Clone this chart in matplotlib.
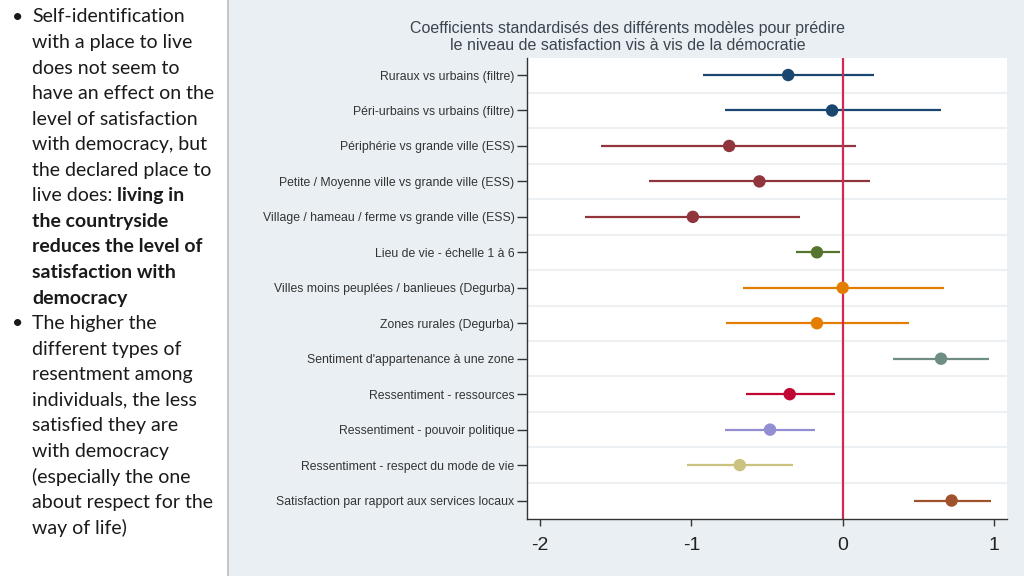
import numpy as np
import matplotlib
matplotlib.use('Agg')
import matplotlib.pyplot as plt
from matplotlib.patches import Rectangle

# --- data ---
labels = [
    "Ruraux vs urbains (filtre)",
    "Péri-urbains vs urbains (filtre)",
    "Périphérie vs grande ville (ESS)",
    "Petite / Moyenne ville vs grande ville (ESS)",
    "Village / hameau / ferme vs grande ville (ESS)",
    "Lieu de vie - échelle 1 à 6",
    "Villes moins peuplées / banlieues (Degurba)",
    "Zones rurales (Degurba)",
    "Sentiment d'appartenance à une zone",
    "Ressentiment - ressources",
    "Ressentiment - pouvoir politique",
    "Ressentiment - respect du mode de vie",
    "Satisfaction par rapport aux services locaux",
]
coef = [-0.36, -0.07, -0.75, -0.55, -0.99, -0.17, 0.00, -0.17, 0.65, -0.35, -0.48, -0.68, 0.72]
ci_low = [-0.92, -0.78, -1.60, -1.28, -1.70, -0.31, -0.66, -0.77, 0.33, -0.64, -0.78, -1.03, 0.47]
ci_high = [0.21, 0.65, 0.09, 0.18, -0.28, -0.02, 0.67, 0.44, 0.97, -0.05, -0.18, -0.33, 0.98]
colors = ["#1a476f", "#1a476f", "#90353b", "#90353b", "#90353b", "#55752f",
          "#e37e00", "#e37e00", "#6e8e84", "#c10534", "#938dd2", "#cac27e", "#a0522d"]

title = "Coefficients standardisés des différents modèles pour prédire\nle niveau de satisfaction vis à vis de la démocratie"

# left-hand notes, each line as (text, bold) pieces
notes = [
    [("Self-identification", False)],
    [("with a place to live", False)],
    [("does not seem to", False)],
    [("have an effect on the", False)],
    [("level of satisfaction", False)],
    [("with democracy, but", False)],
    [("the declared place to", False)],
    [("live does: ", False), ("living in", True)],
    [("the countryside", True)],
    [("reduces the level of", True)],
    [("satisfaction with", True)],
    [("democracy", True)],
    [("The higher the", False)],
    [("different types of", False)],
    [("resentment among", False)],
    [("individuals, the less", False)],
    [("satisfied they are", False)],
    [("with democracy", False)],
    [("(especially the one", False)],
    [("about respect for the", False)],
    [("way of life)", False)],
]
bullet_lines = [0, 12]

W, H = 1024, 576
fig = plt.figure(figsize=(W / 100, H / 100), dpi=100)
fig.patch.set_facecolor('white')

# grey-blue panel behind the chart
fig.patches.append(Rectangle((228 / W, -0.01), 1 - 228 / W + 0.01, 1.02, transform=fig.transFigure,
                             facecolor='#e9eff2', edgecolor='#b8bec2', linewidth=1.2, zorder=-5))

ax = fig.add_axes([527 / W, 1 - 519 / H, (1007 - 527) / W, (519 - 58) / H])
ax.set_facecolor('white')
y = np.arange(len(labels))

ax.hlines(y, ci_low, ci_high, colors=colors, linewidth=1.6, zorder=2)
ax.scatter(coef, y, s=80, c=colors, zorder=3, edgecolors='none')
ax.axvline(0, color='#d02a55', linewidth=1.6, zorder=2.5)

ax.set_xlim(-2.086, 1.086)
ax.set_ylim(len(labels) - 0.48, -0.48)
ax.set_xticks([-2, -1, 0, 1])
ax.set_xticklabels(['-2', '-1', '0', '1'], fontsize=14, family='Liberation Sans', color='#222222')
ax.set_yticks(y)
ax.set_yticklabels(labels, fontsize=8.8, family='Liberation Sans', color='#333333')
ax.set_yticks(y[:-1] + 0.5, minor=True)
ax.grid(which='minor', axis='y', color='#edf1f3', linewidth=1.5)
ax.tick_params(axis='y', which='minor', length=0)
ax.tick_params(axis='y', which='major', length=7, width=1, color='#333333', pad=2)
ax.tick_params(axis='x', length=5, width=1, color='#333333', pad=8)
for s in ['top', 'right']:
    ax.spines[s].set_visible(False)
for s in ['left', 'bottom']:
    ax.spines[s].set_color('#333333')
    ax.spines[s].set_linewidth(1.0)

fig.text(628 / W, 1 - 37 / H, title, ha='center', va='center', fontsize=11.5,
         family='Liberation Sans', color='#3b4550', linespacing=1.1)

# left-hand notes
fig.canvas.draw()
renderer = fig.canvas.get_renderer()
y0, dy = 17, 25.55
for i, parts in enumerate(notes):
    ypix = y0 + i * dy
    if i in bullet_lines:
        fig.text(12 / W, 1 - ypix / H, "•", ha='left', va='center', fontsize=14,
                 family='Lato', color='#1a1a1a')
    xpix = 32
    for txt, bold in parts:
        t = fig.text(xpix / W, 1 - ypix / H, txt, ha='left', va='center', fontsize=14,
                     family='Lato', fontweight='bold' if bold else 'normal', color='#1a1a1a')
        xpix += t.get_window_extent(renderer).width

fig.savefig('out.png', dpi=100)
